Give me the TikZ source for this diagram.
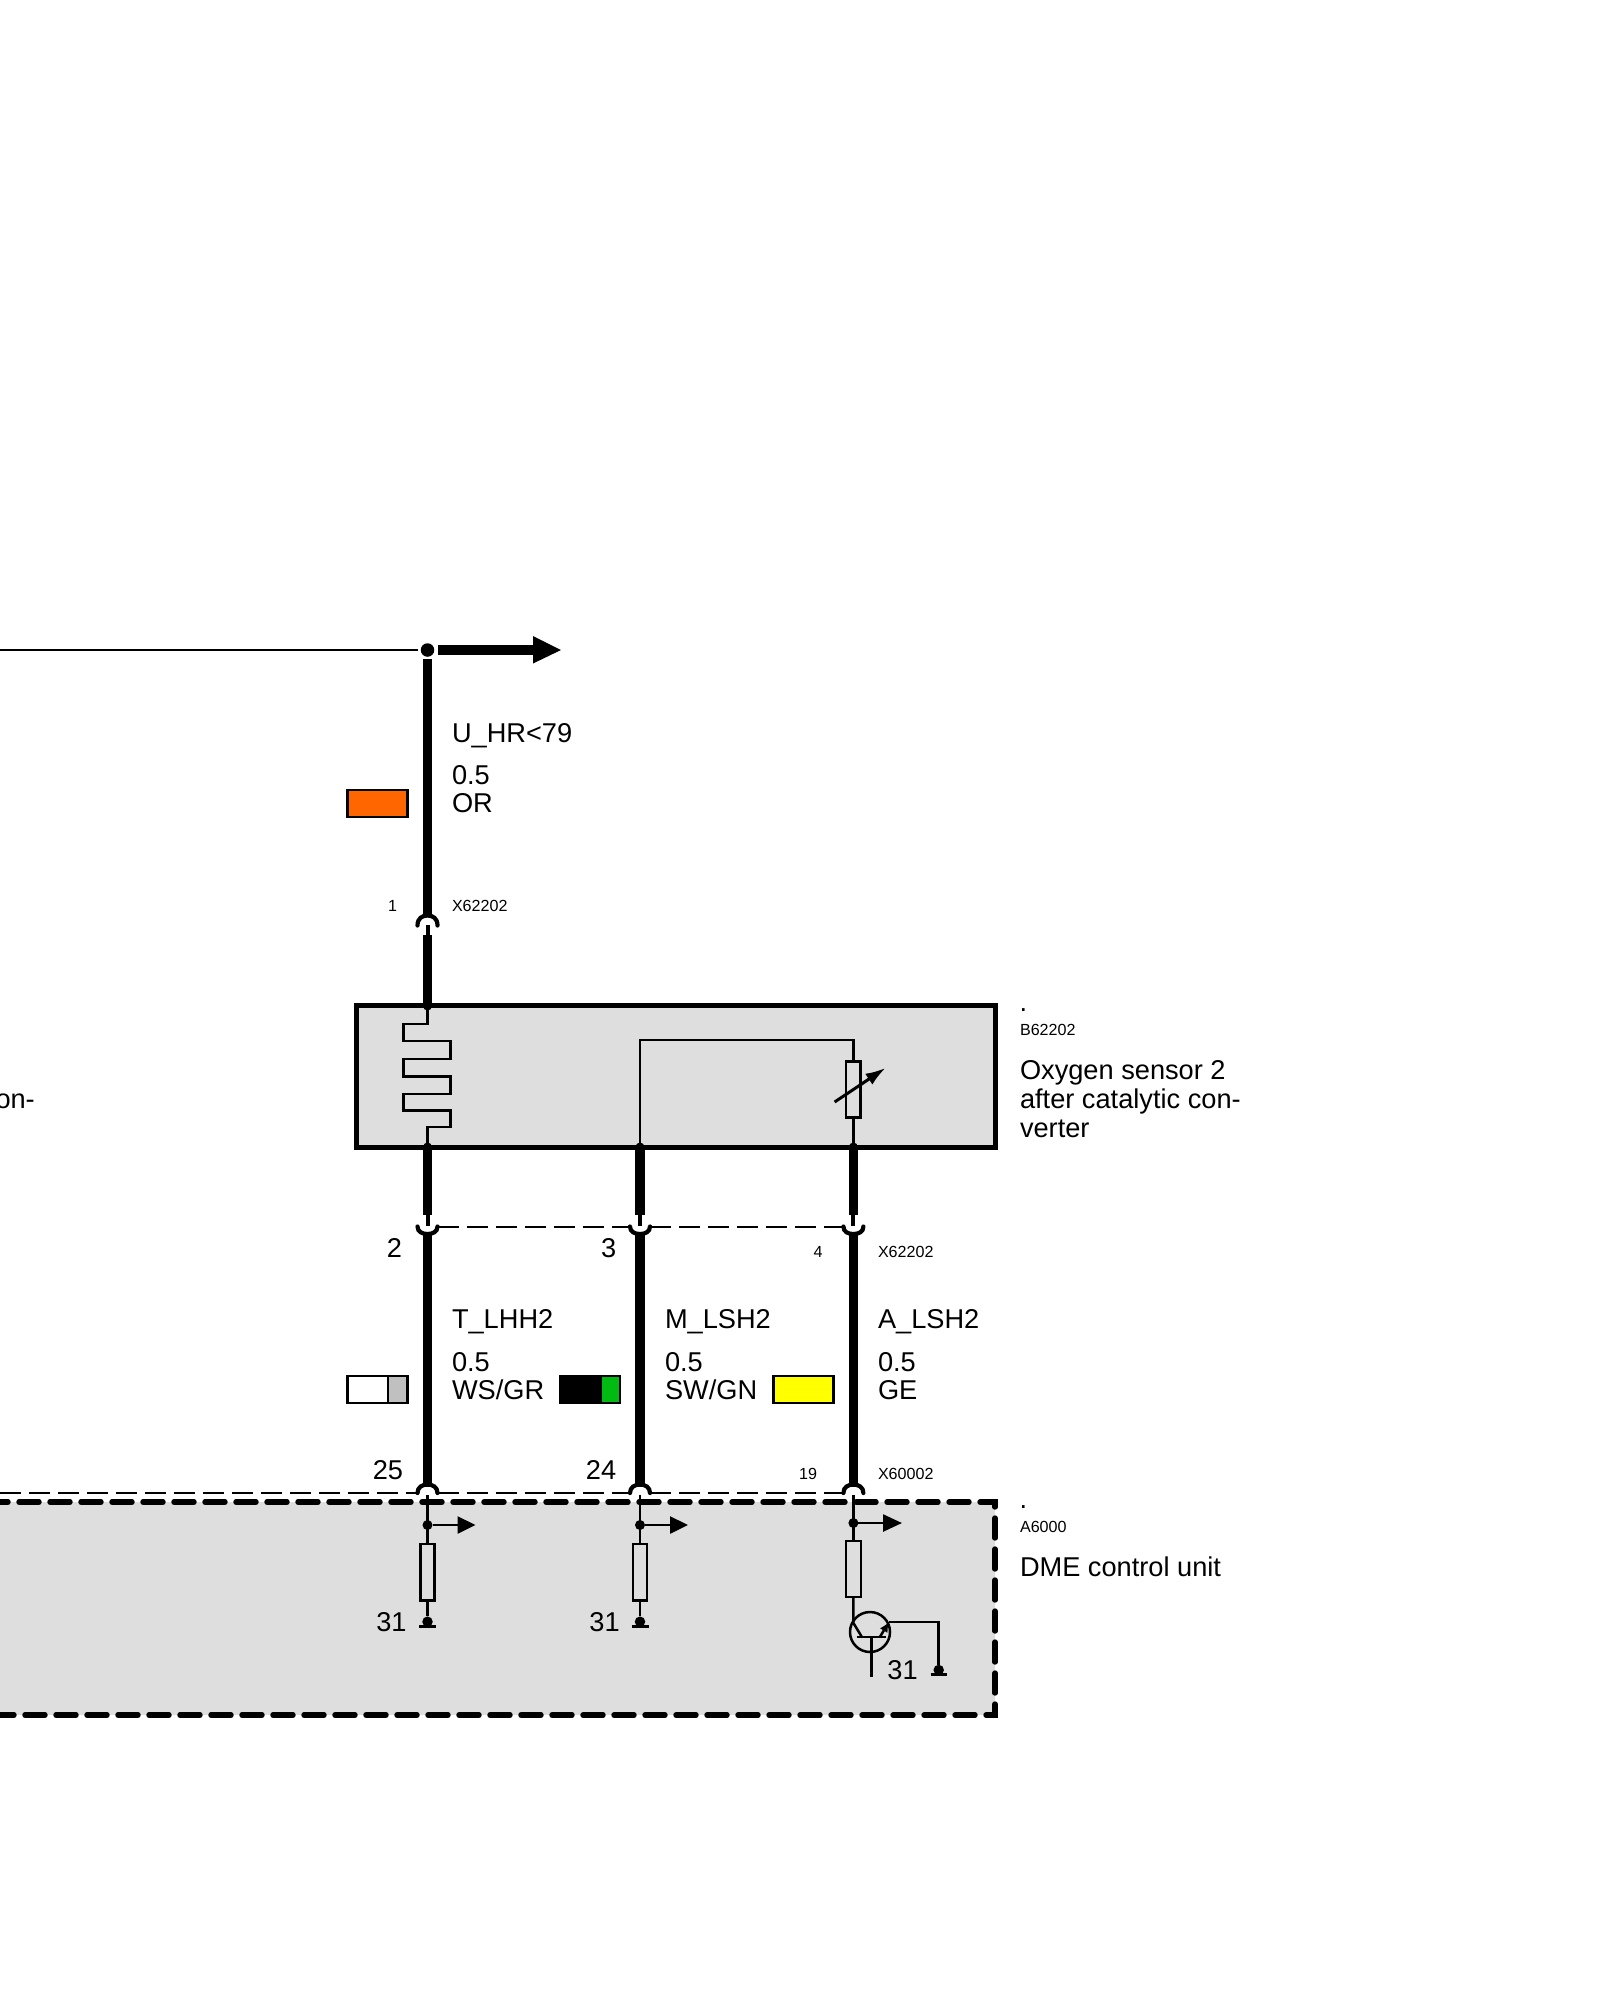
\documentclass[tikz,border=0pt]{standalone}
\usepackage{fontspec}
\setmainfont{Liberation Sans}
\usetikzlibrary{arrows.meta}
\definecolor{panelgrey}{HTML}{DEDEDE}
\definecolor{wireor}{HTML}{FF6600}
\definecolor{wiregr}{HTML}{C0C0C0}
\definecolor{wiregn}{HTML}{00BB11}
\definecolor{wirege}{HTML}{FFFF00}
\tikzset{
  every node/.style={outer sep=0pt},
  thickwire/.style={line width=9.2pt},
  stubwire/.style={line width=4pt},
  thinwire/.style={line width=2.4pt},
  symline/.style={line width=2.5pt, line join=miter},
  cupline/.style={line width=4.2pt, line cap=round},
  frame/.style={line width=5.4pt, line join=miter},
  framedash/.style={line width=5.4pt, line cap=round, dash pattern=on 20pt off 11pt},
  plugdash/.style={line width=2.2pt, dash pattern=on 21pt off 8pt},
  swatch/.style={line width=2.2pt, draw=black},
  lbl/.style={anchor=base west, inner sep=0pt, font=\fontsize{27.2}{29}\selectfont},
  lblc/.style={anchor=base, inner sep=0pt, font=\fontsize{27.2}{29}\selectfont},
  tiny/.style={anchor=west, inner sep=0pt, font=\fontsize{16.1}{18}\selectfont},
  tinyc/.style={anchor=center, inner sep=0pt, font=\fontsize{16.1}{18}\selectfont},
  bigdot/.style={circle, fill=black, inner sep=0pt, minimum size=#1}
}
\begin{document}
\begin{tikzpicture}[x=1pt,y=-1pt]
\useasboundingbox (0,0) rectangle (1600,2000);
\fill[white] (0,0) rectangle (1600,2000);
% ---- x positions of the three wires
\def\xa{427.5} \def\xb{640} \def\xc{853.4}

% ---- panels
\fill[panelgrey] (0,1502) rectangle (995,1715);
\draw[framedash] (-12,1502) -- (995,1502) -- (995,1715) -- (-12,1715);
\node[draw=black, fill=panelgrey, frame, inner sep=0pt, minimum width=639pt, minimum height=141.5pt, anchor=north west] (sensor) at (356.3,1005.7) {};

% ---- top junction
\node[bigdot=13.5pt] (jn) at (\xa,650) {};
\coordinate (leftend) at (0,650);
\coordinate (thinend) at (418,650);
\draw[thinwire] (leftend) -- (thinend);
\coordinate (thickstart) at (438,650);
\coordinate (thickend) at (536,650);
\draw[thickwire] (thickstart) -- (thickend);
\coordinate (tipa) at (533,636); \coordinate (tipb) at (561,650); \coordinate (tipc) at (533,663.5);
\fill (tipa) -- (tipb) -- (tipc) -- cycle;

% ---- wire 1 upper
\coordinate (w1top) at (\xa,659);
\coordinate (w1cap) at (\xa,917);
\draw[thickwire] (w1top) -- (w1cap);
\draw[cupline] (\xa-10,925.5) .. controls (\xa-10,918) and (\xa-5,915.5) .. (\xa,915.5) .. controls (\xa+5,915.5) and (\xa+10,918) .. (\xa+10,925.5);
\coordinate (w1st) at (\xa,925);
\coordinate (w1th) at (\xa,935);
\coordinate (w1box) at (\xa,1006);
\draw[stubwire] (w1st) -- (w1th);
\draw[thickwire] (w1th) -- (w1box);
\fill (w1box) circle (4.5);

% ---- heater
\draw[symline] (w1box) -- (\xa,1024) -- (403.4,1024) -- (403.4,1041) -- (450.7,1041) -- (450.7,1059) -- (403.4,1059) -- (403.4,1076.7) -- (450.7,1076.7) -- (450.7,1094) -- (403.4,1094) -- (403.4,1110.5) -- (450.7,1110.5) -- (450.7,1127) -- (\xa,1127) -- (\xa,1147);

% ---- lambda cell
\coordinate (b2) at (\xb,1147);
\coordinate (b3) at (\xc,1147);
\node[draw=black, symline, inner sep=0pt, minimum width=14.5pt, minimum height=56pt, anchor=north] (cell) at (\xc,1061.7) {};
\draw[symline] (b2) -- (\xb,1040) -- (\xc,1040) -- (cell.north);
\draw[symline] (cell.south) -- (b3);
\coordinate (varA) at (834.6,1102);
\coordinate (varB) at (885.5,1068);
\draw[line width=3pt, -{Latex[length=20pt,width=13pt]}] (varA) -- (varB);

% ---- lower wires
\foreach \x/\n in {\xa/a,\xb/b,\xc/c}{
  \coordinate (s\n) at (\x,1147);
  \coordinate (t\n) at (\x,1215);
  \coordinate (u\n) at (\x,1226);
  \coordinate (v\n) at (\x,1233);
  \coordinate (w\n) at (\x,1487);
  \fill (s\n) circle (4.5);
  \draw[thickwire] (s\n) -- (t\n);
  \draw[stubwire] (t\n) -- (u\n);
  \draw[cupline] (\x-10,1226.5) .. controls (\x-10,1232) and (\x-5,1234) .. (\x,1234) .. controls (\x+5,1234) and (\x+10,1232) .. (\x+10,1226.5);
  \draw[thickwire] (v\n) -- (w\n);
  \draw[cupline] (\x-10,1493) .. controls (\x-10,1487) and (\x-5,1484.5) .. (\x,1484.5) .. controls (\x+5,1484.5) and (\x+10,1487) .. (\x+10,1493);
}

% ---- plug outlines
\draw[plugdash] (\xa+10,1227.3) -- (\xb-10,1227.3);
\draw[plugdash] (\xb+10,1227.3) -- (\xc-10,1227.3);
\draw[plugdash] (0,1493) -- (\xa-10,1493);
\draw[plugdash] (\xa+10,1493) -- (\xb-10,1493);
\draw[plugdash] (\xb+10,1493) -- (\xc-10,1493);

% ---- control unit, channels 1 and 2
\foreach \x/\n in {\xa/a,\xb/b}{
  \node[draw=black, symline, inner sep=0pt, minimum width=14pt, minimum height=56.5pt, anchor=north] (r\n) at (\x,1544) {};
  \node[bigdot=10pt] (d\n) at (\x,1525) {};
  \node[bigdot=10.5pt] (g\n) at (\x,1621.7) {};
  \coordinate (p\n) at (\x,1495);
  \draw[symline] (p\n) -- (r\n.north);
  \draw[symline] (r\n.south) -- (g\n);
  \draw[line width=2.6pt] (\x-8.5,1626.5) -- (\x+8.5,1626.5);
  \coordinate (h\n) at (\x+48,1525);
  \draw[symline, -{Triangle[length=18pt,width=17pt]}] (d\n) -- (h\n);
}

% ---- control unit, channel 3
\node[draw=black, symline, inner sep=0pt, minimum width=15pt, minimum height=56pt, anchor=north] (rc) at (\xc,1541) {};
\node[bigdot=10pt] (dc) at (\xc,1523) {};
\coordinate (pc) at (\xc,1495);
\coordinate (hc) at (902,1523);
\draw[symline] (pc) -- (rc.north);
\draw[symline, -{Triangle[length=19pt,width=17pt]}] (dc) -- (hc);
\node[draw=black, circle, symline, inner sep=0pt, minimum size=40pt] (tr) at (870,1632) {};
\coordinate (coll) at (861.7,1636.7);
\coordinate (emit) at (880,1636.7);
\coordinate (emo) at (889,1622);
\coordinate (baseend) at (871.7,1677);
\draw[symline] (rc.south) -- (\xc,1623) -- (coll);
\draw[line width=2.4pt] (856.7,1636.7) -- (886,1636.7);
\draw[symline] (871.7,1636.7) -- (baseend);
\draw[symline, -{Latex[length=10pt,width=9pt]}] (emit) -- (emo);
\node[bigdot=10.5pt] (gc) at (938.7,1670) {};
\draw[symline] (emo) -- (938.7,1622) -- (gc);
\draw[line width=2.6pt] (930.7,1674.5) -- (946.5,1674.5);

% ---- swatches
\node[swatch, fill=wireor, inner sep=0pt, minimum width=60pt, minimum height=27pt, anchor=north west] (sw0) at (347.5,789.8) {};
\node[swatch, fill=white, inner sep=0pt, minimum width=60pt, minimum height=27pt, anchor=north west] (sw1) at (347.5,1375.8) {};
\fill[wiregr] (388,1375.8) rectangle (407.5,1402.8);
\draw[line width=2.2pt] (388,1375.8) -- (388,1402.8);
\draw[line width=2.2pt] (sw1.north west) rectangle (sw1.south east);
\node[swatch, fill=black, inner sep=0pt, minimum width=60pt, minimum height=27pt, anchor=north west] (sw2) at (560.3,1375.8) {};
\fill[wiregn] (601.5,1376.9) rectangle (619.2,1401.7);
\node[swatch, fill=wirege, inner sep=0pt, minimum width=60pt, minimum height=27pt, anchor=north west] (sw3) at (773.5,1375.8) {};

% ---- wire labels
\node[lbl] (t1) at (452,742.7) {U\_HR<79};
\node[lbl] (t2) at (452,784) {0.5};
\node[lbl] (t3) at (452,812.7) {OR};
\node[tinyc] (t4) at (392.5,905.7) {1};
\node[tiny] (t5) at (452,905.7) {X62202};

\node[lblc] (t6) at (394.5,1257.7) {2};
\node[lblc] (t7) at (608.7,1257.7) {3};
\node[tinyc] (t8) at (818.2,1251.7) {4};
\node[tiny] (t9) at (878,1251.7) {X62202};

\node[lbl] (t10) at (452,1328.7) {T\_LHH2};
\node[lbl] (t11) at (452,1371.7) {0.5};
\node[lbl] (t12) at (452,1399) {WS/GR};
\node[lbl] (t13) at (665,1328.7) {M\_LSH2};
\node[lbl] (t14) at (665,1371.7) {0.5};
\node[lbl] (t15) at (665,1399) {SW/GN};
\node[lbl] (t16) at (878,1328.7) {A\_LSH2};
\node[lbl] (t17) at (878,1371.7) {0.5};
\node[lbl] (t18) at (878,1399) {GE};

\node[lblc] (t19) at (388,1479) {25};
\node[lblc] (t20) at (601,1479) {24};
\node[tinyc] (t21) at (808,1473.5) {19};
\node[tiny] (t22) at (878,1473.5) {X60002};

\node[lblc] (t23) at (391.5,1631) {31};
\node[lblc] (t24) at (604.5,1631) {31};
\node[lblc] (t25) at (902.5,1679) {31};

% ---- component labels
\node[lblc] (t26) at (1023.5,1011) {.};
\node[tiny] (t27) at (1020,1030) {B62202};
\node[lbl] (t28) at (1020,1079) {Oxygen sensor 2};
\node[lbl] (t29) at (1020,1108) {after catalytic con-};
\node[lbl] (t30) at (1020,1137) {verter};
\node[lbl] (t31) at (-4.5,1108) {on-};

\node[lblc] (t32) at (1023.5,1508) {.};
\node[tiny] (t33) at (1020,1526.7) {A6000};
\node[lbl] (t34) at (1020,1576.7) {DME control unit};
\end{tikzpicture}
\end{document}
